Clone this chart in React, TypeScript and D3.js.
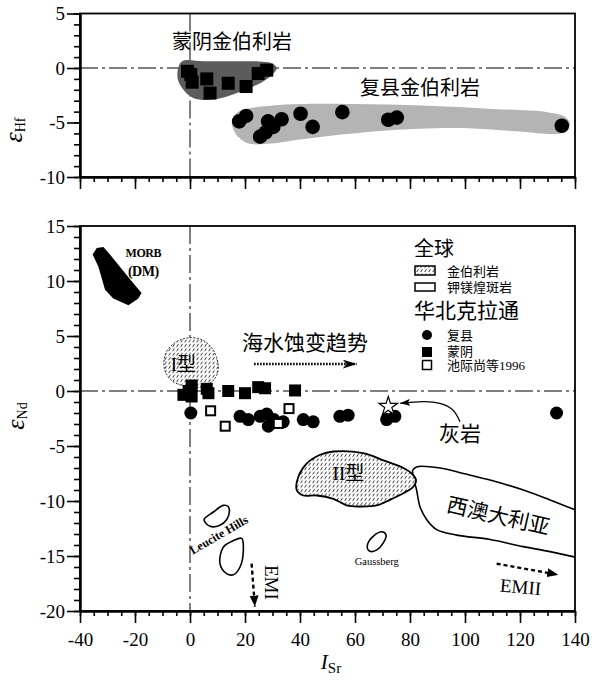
import React, { useEffect, useRef } from "react";
import * as d3 from "d3";

type Pt = [number, number];

// axis ticks
const xTicks = [-40, -20, 0, 20, 40, 60, 80, 100, 120, 140];
const hfTicks = [5, 0, -5, -10];
const ndTicks = [15, 10, 5, 0, -5, -10, -15, -20];

// eHf vs ISr
const hfMengyin: Pt[] = [[-0.9, -0.3], [0.3, -0.6], [0.8, -1.3], [6.1, -1.0], [7.3, -2.3], [13.9, -1.4], [20.4, -1.7], [24.8, -0.5], [27.9, -0.2]];
const hfFuxian: Pt[] = [[17.9, -4.9], [20.4, -4.4], [25.5, -6.3], [27.5, -5.9], [28.4, -4.9], [30.3, -5.4], [33.3, -4.7], [40.2, -4.2], [44.6, -5.4], [55.4, -4.05], [72.1, -4.75], [75.2, -4.55], [135.2, -5.3]];
const hfMengyinField: Pt[] = [[-3, 0.6], [5, 0.62], [15, 0.62], [25, 0.6], [29.5, 0.45], [31.5, 0.0], [28, -1.0], [18, -2.2], [8.5, -2.9], [1.2, -2.75], [-3, -1.8], [-4.6, -0.7]];
const hfFuxianField: Pt[] = [[15.2, -4.9], [17, -4.1], [20.6, -3.75], [30, -3.45], [40, -3.3], [60, -3.3], [84.7, -3.45], [110, -3.75], [130, -4.05], [136.5, -4.5], [138.2, -5.2], [135.5, -5.95], [130, -6.05], [121, -5.85], [97, -5.5], [72.7, -5.7], [55, -6.1], [40, -6.55], [28, -6.95], [21, -6.9], [16.5, -6.0]];

// eNd vs ISr
const ndMengyin: Pt[] = [[-2.4, -0.35], [0.6, 0.5], [0.6, -0.5], [-0.5, 0.0], [6.1, 0.2], [6.7, -0.2], [13.9, 0.0], [20, -0.2], [24.8, 0.35], [27.3, 0.25], [38.2, 0.05]];
const ndChi: Pt[] = [[7.5, -1.8], [12.8, -3.2], [32.1, -2.95], [36, -1.6]];
const ndFuxian: Pt[] = [[0.3, -2.0], [18.2, -2.3], [21.2, -2.6], [25.5, -2.3], [27.9, -2.1], [28.5, -3.2], [30.5, -2.6], [33.9, -2.8], [41.2, -2.6], [44.8, -2.8], [54.5, -2.3], [57.5, -2.2], [71.5, -2.6], [74.5, -2.3], [133.3, -2.0]];
const limestone: Pt = [72.1, -1.4];

// fields on the eNd diagram
const morbField: Pt[] = [[-33.9, 13.0], [-31.5, 13.1], [-29.1, 12.4], [-25.5, 11.3], [-20.6, 9.8], [-17.6, 8.9], [-18.8, 8.4], [-22.4, 7.8], [-27.9, 8.4], [-30.9, 9.2], [-33.3, 11.3], [-35.4, 12.4]];
const type1Field: Pt[] = [[-9.5, 2.5], [-8.5, 3.6], [-4.8, 4.5], [0, 4.85], [4.8, 4.6], [8.5, 3.7], [10.3, 2.2], [9.1, 1.15], [4.8, 0.4], [-1.2, 0.4], [-6.1, 0.85], [-8.7, 1.6]];
const type2Field: Pt[] = [[38.8, -9.0], [39.4, -7.8], [42.4, -6.6], [47.3, -5.8], [52.1, -5.5], [63, -5.65], [70.3, -6.3], [77.6, -7.0], [80.6, -7.5], [82.2, -8.1], [81.2, -8.7], [77.6, -9.3], [72.7, -9.9], [67.9, -10.4], [61.8, -10.5], [57, -10.4], [52.1, -9.8], [46.1, -9.5], [41.2, -9.5]];
const waField: Pt[] = [[140, -15.1], [130.9, -14.6], [121.2, -14.15], [109.1, -13.5], [97, -13.1], [89.7, -12.6], [86.1, -11.7], [83.6, -10.5], [82.4, -9.0], [81.4, -8.0], [81, -7.2], [82.4, -6.9], [90.9, -7.0], [99.4, -7.5], [109.1, -8.1], [121.2, -9.0], [130.9, -9.9], [140, -10.8]];
const leuciteA: Pt[] = [[5.1, -11.7], [8.5, -11.0], [12.1, -10.4], [13.9, -10.5], [14.3, -11.0], [13.3, -11.7], [10.9, -12.2], [7.3, -12.3]];
const leuciteB: Pt[] = [[10.9, -15.7], [12.1, -14.2], [15.8, -13.6], [18.8, -13.4], [19.4, -14.5], [18.2, -16.0], [15.8, -16.7], [13.3, -16.6]];
const gaussberg: Pt[] = [[64.8, -14.45], [64.5, -14.0], [66.7, -13.2], [69.7, -12.8], [71.3, -13.1], [70.3, -13.8], [67.9, -14.45], [66.1, -14.6]];

// arrows
const seawaterArrow: Pt[] = [[23.3, 2.45], [60.6, 2.45]];
const emiArrow: Pt[] = [[22.4, -15.7], [23.6, -19.6]];
const emiiArrow: Pt[] = [[111.5, -15.7], [133.9, -16.7]];
const limestoneArrow: Pt[] = [[98.2, -2.8], [95.6, -1.73], [90.9, -1.12], [84.7, -0.97], [76.4, -1.12]];

export default function App() {
    const svgRef = useRef<SVGSVGElement | null>(null);

    useEffect(() => {
        //clear old drawing
        const svg = d3.select(svgRef.current);
        svg.selectAll("*").remove();

        const width = 596;
        const height = 686;
        svg.attr("width", width).attr("height", height);

        const serif = "'Liberation Serif', 'Times New Roman', 'Noto Sans CJK SC', serif";

        //scales
        const x = d3.scaleLinear().domain([-40, 140]).range([80, 575]);
        const yHf = d3.scaleLinear().domain([-10, 5]).range([177, 13.5]);
        const yNd = d3.scaleLinear().domain([-20, 15]).range([611, 226]);

        //hatch pattern and arrow heads
        const defs = svg.append("defs");
        const pat = defs.append("pattern")
            .attr("id", "hatch")
            .attr("patternUnits", "userSpaceOnUse")
            .attr("width", 4)
            .attr("height", 4.4);
        pat.append("rect").attr("width", 4).attr("height", 4.4).attr("fill", "#fff");
        pat.append("path")
            .attr("d", "M0.8,3.4 L2.4,1.0")
            .attr("stroke", "#000")
            .attr("stroke-width", 0.75)
            .attr("stroke-linecap", "round");

        const marker = (id: string, w: number, h: number, notch: number) => {
            defs.append("marker")
                .attr("id", id)
                .attr("viewBox", `0 0 ${w} ${h}`)
                .attr("refX", w)
                .attr("refY", h / 2)
                .attr("markerWidth", w)
                .attr("markerHeight", h)
                .attr("markerUnits", "userSpaceOnUse")
                .attr("orient", "auto")
                .append("path")
                .attr("d", `M0,0 L${w},${h / 2} L0,${h} L${notch},${h / 2} Z`)
                .attr("fill", "#000");
        };
        marker("headNotch", 14, 9, 4);
        marker("headTri", 11, 9, 0);
        marker("headThin", 10, 7, 2);

        const dashDot = "18 4 3 4";

        //axes for one panel
        const drawAxes = (y: d3.ScaleLinear<number, number>, ticks: number[], showXLabels: boolean) => {
            const [y0, y1] = y.range();
            const dom = y.domain();

            svg.append("rect")
                .attr("x", x(-40))
                .attr("y", y1)
                .attr("width", x(140) - x(-40))
                .attr("height", y0 - y1)
                .attr("fill", "none")
                .attr("stroke", "#000")
                .attr("stroke-width", 1.8);

            //reference lines
            svg.append("line")
                .attr("x1", x(-40)).attr("x2", x(140))
                .attr("y1", y(0)).attr("y2", y(0))
                .attr("stroke", "#000").attr("stroke-width", 1)
                .attr("stroke-dasharray", dashDot);
            svg.append("line")
                .attr("x1", x(0)).attr("x2", x(0))
                .attr("y1", y1).attr("y2", y0)
                .attr("stroke", "#000").attr("stroke-width", 1)
                .attr("stroke-dasharray", dashDot);

            //y minor + major
            svg.append("g")
                .attr("transform", `translate(${x(-40)},0)`)
                .call(d3.axisLeft(y).tickValues(d3.range(dom[0], dom[1] + 0.5, 1)).tickSize(6).tickSizeOuter(0).tickFormat(() => ""));
            svg.append("g")
                .attr("transform", `translate(${x(-40)},0)`)
                .attr("class", "major")
                .call(d3.axisLeft(y).tickValues(ticks).tickSize(13).tickPadding(2).tickSizeOuter(0).tickFormat((d) => `${d}`));

            //x minor + major
            svg.append("g")
                .attr("transform", `translate(0,${y0})`)
                .call(d3.axisBottom(x).tickValues(d3.range(-40, 141, 5)).tickSize(5).tickSizeOuter(0).tickFormat(() => ""));
            svg.append("g")
                .attr("transform", `translate(0,${y0})`)
                .attr("class", "major")
                .call(d3.axisBottom(x).tickValues(xTicks).tickSize(12).tickPadding(10).tickSizeOuter(0)
                    .tickFormat((d) => (showXLabels ? `${d}` : "")));
        };

        drawAxes(yHf, hfTicks, false);
        drawAxes(yNd, ndTicks, true);

        svg.selectAll(".domain").attr("stroke-width", 2);
        svg.selectAll(".tick line").attr("stroke-width", 1.6);
        svg.selectAll(".major text")
            .attr("font-family", serif)
            .attr("font-size", 19)
            .attr("fill", "#000");

        const blob = d3.line<Pt>().curve(d3.curveCatmullRomClosed.alpha(0.5));
        const open = d3.line<Pt>().curve(d3.curveCatmullRom.alpha(0.5));
        const poly = d3.line<Pt>().curve(d3.curveLinearClosed);

        //----- top panel: eHf -----
        const top = svg.append("g");
        top.append("path")
            .attr("d", blob(hfMengyinField.map(([a, b]) => [x(a), yHf(b)] as Pt)))
            .attr("fill", "#5c5c5c");
        top.append("path")
            .attr("d", blob(hfFuxianField.map(([a, b]) => [x(a), yHf(b)] as Pt)))
            .attr("fill", "#b4b4b4");

        top.selectAll(null).data(hfMengyin).join("rect")
            .attr("x", (d) => x(d[0]) - 6.5)
            .attr("y", (d) => yHf(d[1]) - 6.5)
            .attr("width", 13).attr("height", 13)
            .attr("fill", "#000");
        top.selectAll(null).data(hfFuxian).join("circle")
            .attr("cx", (d) => x(d[0]))
            .attr("cy", (d) => yHf(d[1]))
            .attr("r", 7.3)
            .attr("fill", "#000");

        top.append("text")
            .attr("x", x(15.3)).attr("y", yHf(1.7))
            .attr("text-anchor", "middle")
            .attr("font-size", 20).attr("font-family", serif)
            .text("蒙阴金伯利岩");
        top.append("text")
            .attr("x", x(83.6)).attr("y", yHf(-2.5))
            .attr("text-anchor", "middle")
            .attr("font-size", 20).attr("font-family", serif)
            .text("复县金伯利岩");

        //----- bottom panel: eNd -----
        const bot = svg.append("g");
        const pNd = (pts: Pt[]) => pts.map(([a, b]) => [x(a), yNd(b)] as Pt);

        bot.append("path").attr("d", poly(pNd(morbField))).attr("fill", "#000");
        bot.append("path").attr("d", open(pNd(waField)))
            .attr("fill", "none").attr("stroke", "#000").attr("stroke-width", 1.6);
        bot.append("path").attr("d", blob(pNd(type2Field)))
            .attr("fill", "url(#hatch)").attr("stroke", "#000").attr("stroke-width", 1.8);
        bot.append("path").attr("d", blob(pNd(type1Field)))
            .attr("fill", "url(#hatch)").attr("stroke", "#000").attr("stroke-width", 0.8)
            .attr("stroke-dasharray", "2 1.5");
        [leuciteA, leuciteB, gaussberg].forEach((f) => {
            bot.append("path").attr("d", blob(pNd(f)))
                .attr("fill", "none").attr("stroke", "#000").attr("stroke-width", 1.6);
        });

        //arrows
        const straight = d3.line<Pt>();
        bot.append("path").attr("d", straight(pNd(seawaterArrow)))
            .attr("stroke", "#000").attr("stroke-width", 2.6)
            .attr("stroke-dasharray", "1.6 1.4")
            .attr("marker-end", "url(#headNotch)");
        bot.append("path").attr("d", straight(pNd(emiArrow)))
            .attr("stroke", "#000").attr("stroke-width", 2.4)
            .attr("stroke-dasharray", "4 3")
            .attr("marker-end", "url(#headTri)");
        bot.append("path").attr("d", straight(pNd(emiiArrow)))
            .attr("stroke", "#000").attr("stroke-width", 2.4)
            .attr("stroke-dasharray", "4 3")
            .attr("marker-end", "url(#headTri)");
        bot.append("path").attr("d", d3.line<Pt>().curve(d3.curveNatural)(pNd(limestoneArrow)))
            .attr("fill", "none").attr("stroke", "#000").attr("stroke-width", 1.2)
            .attr("marker-end", "url(#headThin)");

        //points
        bot.selectAll(null).data(ndFuxian).join("circle")
            .attr("cx", (d) => x(d[0]))
            .attr("cy", (d) => yNd(d[1]))
            .attr("r", 6.5)
            .attr("fill", "#000");
        bot.selectAll(null).data(ndMengyin).join("rect")
            .attr("x", (d) => x(d[0]) - 6)
            .attr("y", (d) => yNd(d[1]) - 6)
            .attr("width", 12).attr("height", 12)
            .attr("fill", "#000");
        bot.selectAll(null).data(ndChi).join("rect")
            .attr("x", (d) => x(d[0]) - 4.5)
            .attr("y", (d) => yNd(d[1]) - 4.5)
            .attr("width", 9).attr("height", 9)
            .attr("fill", "#fff").attr("stroke", "#000").attr("stroke-width", 2);
        bot.append("path")
            .attr("transform", `translate(${x(limestone[0])},${yNd(limestone[1])})`)
            .attr("d", d3.symbol(d3.symbolStar, 110)())
            .attr("fill", "#fff").attr("stroke", "#000").attr("stroke-width", 1.2);

        //annotations
        const label = (t: string, dx: number, dy: number, size: number, rot = 0, weight = "normal") =>
            bot.append("text")
                .attr("transform", `translate(${x(dx)},${yNd(dy)}) rotate(${rot})`)
                .attr("text-anchor", "middle")
                .attr("font-family", serif)
                .attr("font-size", size)
                .attr("font-weight", weight)
                .text(t);

        label("MORB", -17, 12.2, 12, 0, "bold").attr("letter-spacing", -0.5);
        label("(DM)", -17, 10.45, 14, 0, "bold").attr("letter-spacing", -0.5);
        label("海水蚀变趋势", 41.8, 3.7, 21);
        label("I型", -2.4, 1.8, 19);
        label("II型", 57.6, -8.1, 19);
        label("灰岩", 98.2, -4.5, 21);
        label("西澳大利亚", 111.5, -12.0, 21, 13);
        label("Leucite Hills", 11.2, -13.4, 12, -30, "bold");
        label("EMI", 27.3, -17.4, 19, 90);
        label("Gaussberg", 67.9, -15.8, 10.5);
        label("EMII", 120, -18.4, 19, 5);

        //legend
        const lg = svg.append("g").attr("font-family", serif);
        lg.append("text").attr("x", 414).attr("y", 256).attr("font-size", 20).text("全球");
        lg.append("rect").attr("x", 415).attr("y", 266).attr("width", 20).attr("height", 9)
            .attr("fill", "url(#hatch)").attr("stroke", "#000").attr("stroke-width", 1.5);
        lg.append("text").attr("x", 447).attr("y", 276).attr("font-size", 13).text("金伯利岩");
        lg.append("rect").attr("x", 415).attr("y", 283).attr("width", 20).attr("height", 8)
            .attr("fill", "#fff").attr("stroke", "#000").attr("stroke-width", 1.5);
        lg.append("text").attr("x", 447).attr("y", 292).attr("font-size", 13).text("钾镁煌斑岩");
        lg.append("text").attr("x", 414).attr("y", 318).attr("font-size", 21).text("华北克拉通");
        lg.append("circle").attr("cx", 427).attr("cy", 335).attr("r", 5).attr("fill", "#000");
        lg.append("text").attr("x", 447).attr("y", 340).attr("font-size", 13).text("复县");
        lg.append("rect").attr("x", 422).attr("y", 347).attr("width", 10).attr("height", 10).attr("fill", "#000");
        lg.append("text").attr("x", 447).attr("y", 356).attr("font-size", 13).text("蒙阴");
        lg.append("rect").attr("x", 422.5).attr("y", 360.5).attr("width", 9).attr("height", 9)
            .attr("fill", "#fff").attr("stroke", "#000").attr("stroke-width", 1.5);
        lg.append("text").attr("x", 447).attr("y", 370).attr("font-size", 13).text("池际尚等1996");

        //axis titles
        const hfT = svg.append("text")
            .attr("transform", `translate(22,130) rotate(-90)`)
            .attr("text-anchor", "middle")
            .attr("font-family", serif);
        hfT.append("tspan").attr("font-size", 26).attr("font-style", "italic").text("ε");
        hfT.append("tspan").attr("font-size", 14).attr("dy", 3).text("Hf");

        const ndT = svg.append("text")
            .attr("transform", `translate(24,416) rotate(-90)`)
            .attr("text-anchor", "middle")
            .attr("font-family", serif);
        ndT.append("tspan").attr("font-size", 26).attr("font-style", "italic").text("ε");
        ndT.append("tspan").attr("font-size", 14).attr("dy", 3).text("Nd");

        const srT = svg.append("text")
            .attr("x", 331).attr("y", 669)
            .attr("text-anchor", "middle")
            .attr("font-family", serif);
        srT.append("tspan").attr("font-size", 21).attr("font-style", "italic").text("I");
        srT.append("tspan").attr("font-size", 15).attr("dy", 4).text("Sr");
    }, []);

    return (
        <svg ref={svgRef} style={{ position: "absolute", left: 0, top: 0, background: "#fff" }}></svg>
    );
}
